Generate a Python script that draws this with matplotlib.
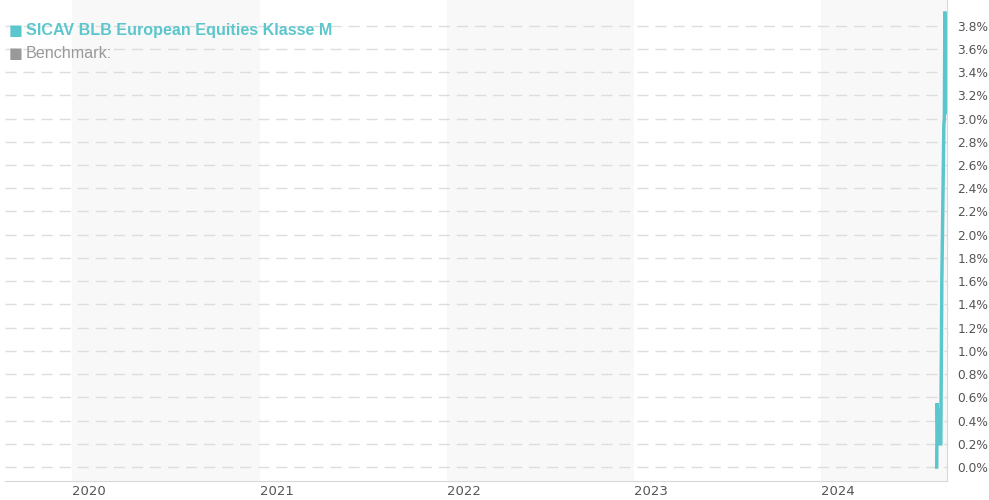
import numpy as np
import pandas as pd
import matplotlib.pyplot as plt
import matplotlib.dates as mdates

# fund performance in %, only the last weeks of the window carry data
dates = pd.to_datetime(['2024-08-13', '2024-08-14', '2024-08-15', '2024-08-16',
                        '2024-08-19', '2024-08-20', '2024-08-21', '2024-08-22',
                        '2024-08-23', '2024-08-26', '2024-08-27', '2024-08-28',
                        '2024-08-29', '2024-08-30'])
perf = [0.0, 0.55, 0.30, 0.50, 0.25, 0.20, 0.20, 0.90, 1.60, 2.60, 2.95, 3.00,
        3.92, 3.05]

years = [2020, 2021, 2022, 2023, 2024]
yticks = [round(0.2 * i, 1) for i in range(20)]

fund_name = 'SICAV BLB European Equities Klasse M'
bench_name = 'Benchmark:'

teal = '#5cc6cd'
x_start = pd.Timestamp('2019-08-23')
x_end = pd.Timestamp('2024-09-03')

fig = plt.figure(figsize=(9.89, 5), dpi=100)
ax = fig.add_axes([0.005, 0.038, 0.953, 0.962])

# alternating year shading
for y in years[::2]:
    ax.axvspan(pd.Timestamp(f'{y}-01-01'), min(pd.Timestamp(f'{y + 1}-01-01'), x_end),
               color='#f8f8f8', lw=0, zorder=0)

for v in yticks:
    ax.axhline(v, color='#dddddd', lw=1, dashes=(8, 5), zorder=1)

ax.plot(dates, perf, color=teal, lw=2.5, zorder=3, solid_joinstyle='miter')

ax.set_xlim(x_start, x_end)
ax.set_ylim(-0.12, 4.02)

ax.yaxis.tick_right()
ax.set_yticks(yticks)
ax.set_yticklabels([f'{v:.1f}%' for v in yticks])
ax.tick_params(axis='y', length=0, pad=7, labelsize=8.8, colors='#555555')

ax.set_xticks([pd.Timestamp(f'{y}-01-01') for y in years])
ax.set_xticklabels([str(y) for y in years], ha='left')
ax.tick_params(axis='x', length=0, pad=3, labelsize=9.5, colors='#555555')

for side in ['top', 'left']:
    ax.spines[side].set_visible(False)
ax.spines['bottom'].set_color('#d8d8d8')
ax.spines['right'].set_color('#d8d8d8')

ax.text(0.004, 0.937, '■', transform=ax.transAxes, color=teal, fontsize=10.5,
        family='DejaVu Sans', va='center')
ax.text(0.022, 0.937, fund_name, transform=ax.transAxes, color=teal, fontsize=11.6,
        fontweight='bold', family='Liberation Sans', va='center')
ax.text(0.004, 0.889, '■', transform=ax.transAxes, color='#999999', fontsize=10.5,
        family='DejaVu Sans', va='center')
ax.text(0.022, 0.889, bench_name, transform=ax.transAxes, color='#999999', fontsize=11.6,
        family='Liberation Sans', va='center')

fig.savefig('out.png', dpi=100)
